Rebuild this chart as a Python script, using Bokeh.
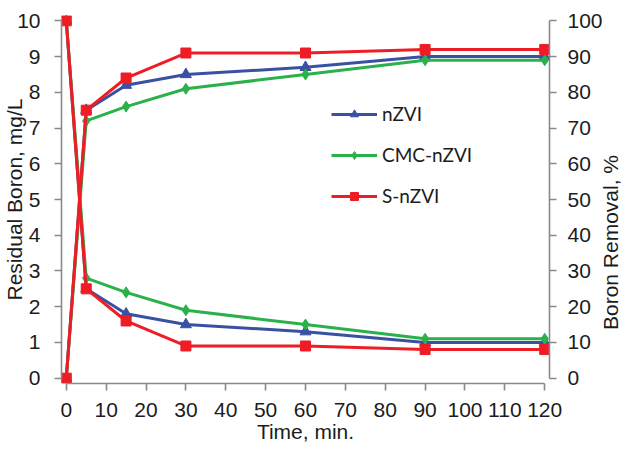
import math
from bokeh.plotting import figure
from bokeh.models import Range1d, LinearAxis, FixedTicker, Legend, LegendItem, Label
from bokeh.embed import file_html
from bokeh.resources import INLINE

time_min = [0, 5, 15, 30, 60, 90, 120]
nzvi_residual = [10, 2.5, 1.8, 1.5, 1.3, 1.0, 1.0]
cmc_residual = [10, 2.8, 2.4, 1.9, 1.5, 1.1, 1.1]
s_residual = [10, 2.5, 1.6, 0.9, 0.9, 0.8, 0.8]
nzvi_removal = [0, 75, 82, 85, 87, 90, 90]
cmc_removal = [0, 72, 76, 81, 85, 89, 89]
s_removal = [0, 75, 84, 91, 91, 92, 92]
series_names = ["nZVI", "CMC-nZVI", "S-nZVI"]
x_ticks = list(range(0, 121, 10))
left_ticks = list(range(0, 11))
right_ticks = list(range(0, 101, 10))

colors = ["#3A50A2", "#2BB14B", "#EE1D25"]
markers = ["triangle", "diamond", "square"]
msizes = [11, 11, 10]

FONT = "Liberation Sans"
AXC = "#898989"
TXC = "#1c1c1c"

p = figure(width=628, height=450, output_backend="svg", toolbar_location=None,
           x_range=Range1d(-1.2, 121.2), y_range=Range1d(-0.15, 10.15),
           x_axis_location=None, y_axis_location=None,
           min_border_top=15, min_border_left=61, min_border_right=77, min_border_bottom=67)
p.extra_y_ranges = {"pct": Range1d(-1.5, 101.5)}
p.grid.visible = False
p.outline_line_color = None
p.background_fill_color = "white"
p.border_fill_color = "white"


def style(ax, label_standoff, title_standoff):
    ax.axis_line_color = AXC
    ax.axis_line_width = 1.6
    ax.major_tick_line_color = AXC
    ax.major_tick_line_width = 1.6
    ax.major_tick_out = 7
    ax.major_tick_in = 0
    ax.minor_tick_line_color = None
    ax.minor_tick_out = 0
    ax.major_label_text_font = FONT
    ax.major_label_text_font_size = "21px"
    ax.major_label_text_color = TXC
    ax.major_label_standoff = label_standoff
    ax.axis_label_text_font = FONT
    ax.axis_label_text_font_size = "21px"
    ax.axis_label_text_font_style = "normal"
    ax.axis_label_text_color = TXC
    ax.axis_label_standoff = title_standoff


xaxis = LinearAxis(ticker=FixedTicker(ticks=x_ticks), bounds=(0, 120), axis_label="Time, min.")
style(xaxis, 12, 0)
p.add_layout(xaxis, "below")

laxis = LinearAxis(ticker=FixedTicker(ticks=left_ticks), bounds=(0, 10),
                   axis_label="Residual Boron, mg/L")
style(laxis, 14, -12)
p.add_layout(laxis, "left")

raxis = LinearAxis(y_range_name="pct", ticker=FixedTicker(ticks=right_ticks),
                   bounds=(0, 100))
style(raxis, 11, 0)
p.add_layout(raxis, "right")

# right axis title, reading bottom-to-top as in the reference (placed in the right panel)
rtitle = Label(x=5, y=141, x_units="screen", y_units="screen", text="Boron Removal, %",
               angle=math.pi / 2, angle_units="rad",
               text_align="center", text_baseline="middle", text_font=FONT,
               text_font_size="21px", text_color=TXC)
p.add_layout(rtitle, "right")

residuals = [nzvi_residual, cmc_residual, s_residual]
removals = [nzvi_removal, cmc_removal, s_removal]

items = []
for name, res, rem, c, m, s in zip(series_names, residuals, removals, colors, markers, msizes):
    l1 = p.line(time_min, res, line_color=c, line_width=3)
    m1 = p.scatter(time_min, res, marker=m, size=s, fill_color=c, line_color=c)
    l2 = p.line(time_min, rem, line_color=c, line_width=3, y_range_name="pct")
    m2 = p.scatter(time_min, rem, marker=m, size=s, fill_color=c, line_color=c, y_range_name="pct")
    items.append(LegendItem(label=name, renderers=[l1, m1]))

legend = Legend(items=items, location=(270, 176))
legend.border_line_color = None
legend.background_fill_alpha = 0
legend.padding = 0
legend.margin = 0
legend.glyph_width = 46
legend.glyph_height = 20
legend.label_height = 20
legend.spacing = 18
legend.label_standoff = 5
legend.label_text_font = "Lato"
legend.label_text_font_size = "19px"
legend.label_text_color = TXC
p.add_layout(legend)

open("out.html", "w").write(file_html(p, INLINE))
